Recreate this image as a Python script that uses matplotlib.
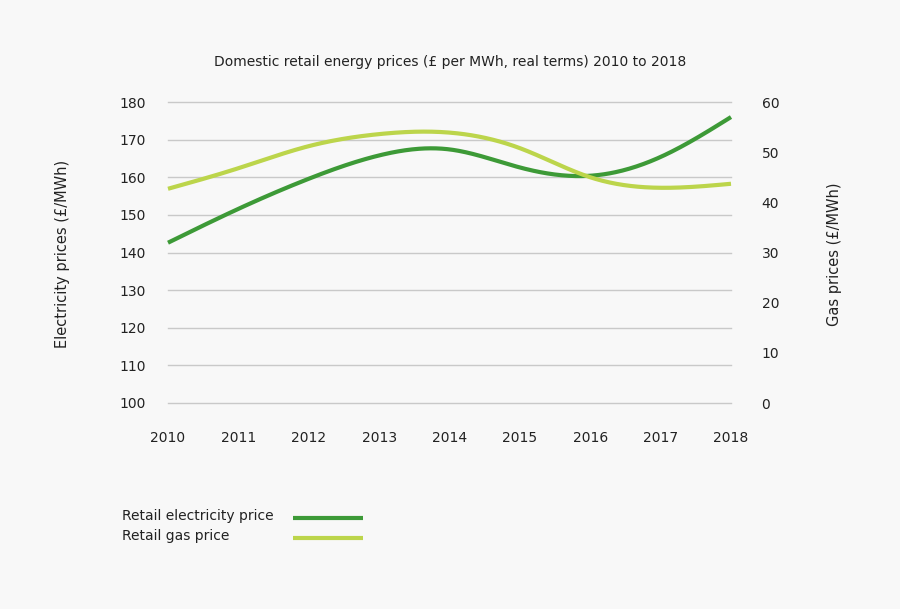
import numpy as np
import matplotlib
matplotlib.use("Agg")
import matplotlib.pyplot as plt
from matplotlib.lines import Line2D

years = [2010, 2011, 2012, 2013, 2014, 2015, 2016, 2017, 2018]
electricity = [142.6, 151.6, 159.6, 165.8, 167.4, 162.6, 160.4, 165.4, 176.0]
gas = [42.7, 46.8, 51.2, 53.6, 53.9, 50.8, 45.0, 42.9, 43.7]
left_ticks = [100, 110, 120, 130, 140, 150, 160, 170, 180]
right_ticks = [0, 10, 20, 30, 40, 50, 60]

title = "Domestic retail energy prices (£ per MWh, real terms) 2010 to 2018"
left_label = "Electricity prices (£/MWh)"
right_label = "Gas prices (£/MWh)"
legend_labels = ["Retail electricity price", "Retail gas price"]

ELEC_C = "#3d9a37"
GAS_C = "#bcd54b"
BG = "#f8f8f8"
TXT = "#222222"
FONT = "DejaVu Sans"
FS = 10


def natural_spline(x, y, n=400):
    x = np.asarray(x, float)
    y = np.asarray(y, float)
    k = len(x)
    h = np.diff(x)
    A = np.zeros((k, k))
    r = np.zeros(k)
    A[0, 0] = A[-1, -1] = 1
    for i in range(1, k - 1):
        A[i, i - 1] = h[i - 1]
        A[i, i] = 2 * (h[i - 1] + h[i])
        A[i, i + 1] = h[i]
        r[i] = 6 * ((y[i + 1] - y[i]) / h[i] - (y[i] - y[i - 1]) / h[i - 1])
    M = np.linalg.solve(A, r)
    xs = np.linspace(x[0], x[-1], n)
    idx = np.clip(np.searchsorted(x, xs) - 1, 0, k - 2)
    x0, x1 = x[idx], x[idx + 1]
    hh = x1 - x0
    t1 = x1 - xs
    t0 = xs - x0
    ys = (M[idx] * t1 ** 3 + M[idx + 1] * t0 ** 3) / (6 * hh) \
        + (y[idx] / hh - M[idx] * hh / 6) * t1 \
        + (y[idx + 1] / hh - M[idx + 1] * hh / 6) * t0
    return xs, ys


plt.rcParams['font.family'] = [FONT]
fig = plt.figure(figsize=(9, 6.09), dpi=100, facecolor=BG)
W, H = 900, 609
ax = fig.add_axes([168 / W, (H - 403) / H, (731 - 168) / W, (403 - 102) / H])
ax.set_facecolor(BG)
ax2 = ax.twinx()

ax.set_xlim(years[0], years[-1])
ax.set_ylim(left_ticks[0], left_ticks[-1])
ax2.set_ylim(right_ticks[0], right_ticks[-1])

ax.set_yticks(left_ticks)
ax2.set_yticks(right_ticks)
ax.set_xticks(years)
ax.set_xticklabels([str(y) for y in years])

ax.grid(axis='y', color='#c9c9c9', linewidth=1.0)
for gl in ax.yaxis.get_gridlines():
    gl.set_clip_on(False)
ax.set_axisbelow(True)
for a in (ax, ax2):
    for s in a.spines.values():
        s.set_visible(False)
ax.tick_params(axis='both', length=0, labelsize=FS, colors=TXT)
ax.tick_params(axis='y', pad=16)
ax.tick_params(axis='x', pad=20)
ax2.tick_params(axis='y', length=0, labelsize=FS, colors=TXT, pad=22)

xs, ys = natural_spline(years, electricity)
ax.plot(xs, ys, color=ELEC_C, linewidth=3.0, solid_capstyle='butt', clip_on=False, zorder=3)
xs2, ys2 = natural_spline(years, gas)
ax2.plot(xs2, ys2, color=GAS_C, linewidth=3.0, solid_capstyle='butt', clip_on=False, zorder=2)

fig.text(450 / W, 1 - 62 / H, title, ha='center', va='center', fontsize=FS, color=TXT)
fig.text(63 / W, 1 - 254 / H, left_label, ha='center', va='center', rotation=90, fontsize=10.5, color=TXT)
fig.text(835 / W, 1 - 254 / H, right_label, ha='center', va='center', rotation=90, fontsize=10.5, color=TXT)

for i, (lab, col) in enumerate(zip(legend_labels, [ELEC_C, GAS_C])):
    yy = 1 - (516 + 20 * i) / H
    fig.text(122 / W, yy, lab, ha='left', va='center', fontsize=FS, color=TXT)
    fig.add_artist(Line2D([293 / W, 363 / W], [yy - 1.5 / H, yy - 1.5 / H], color=col,
                          linewidth=3.0, solid_capstyle='butt', transform=fig.transFigure))

fig.savefig("out.png", dpi=100, facecolor=BG)
